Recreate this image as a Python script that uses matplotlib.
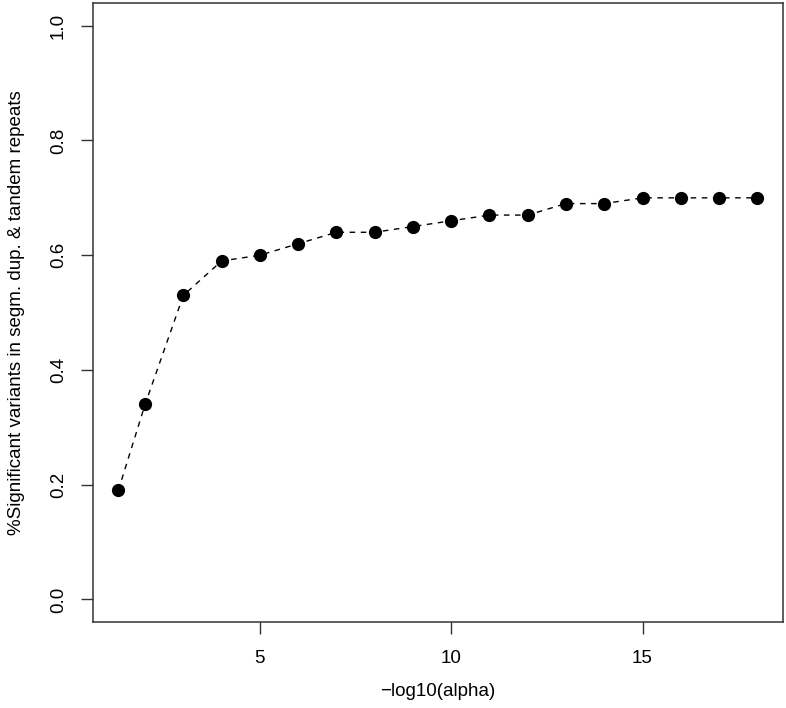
import numpy as np
import matplotlib
matplotlib.use("Agg")
import matplotlib.pyplot as plt

# data
neg_log_alpha = [1.3, 2, 3, 4, 5, 6, 7, 8, 9, 10, 11, 12, 13, 14, 15, 16, 17, 18]
pct_signif = [0.19, 0.34, 0.53, 0.59, 0.60, 0.62, 0.64, 0.64, 0.65, 0.66,
              0.67, 0.67, 0.69, 0.69, 0.70, 0.70, 0.70, 0.70]
x_ticks = [5, 10, 15]
y_ticks = [0.0, 0.2, 0.4, 0.6, 0.8, 1.0]

plt.rcParams['font.family'] = ['Liberation Sans', 'DejaVu Sans']

fig = plt.figure(figsize=(7.86, 7.08), dpi=100)
ax = fig.add_axes([0.118, 0.121, 0.878, 0.875])

ax.plot(neg_log_alpha, pct_signif, 'o--', color='black', linewidth=1,
        markersize=8.5, dashes=(4, 4))

# R style axes: 4% padding around the data range
xmin, xmax = min(neg_log_alpha), max(neg_log_alpha)
pad = 0.04 * (xmax - xmin)
ax.set_xlim(xmin - pad, xmax + pad)
ax.set_ylim(-0.04, 1.04)
ax.set_xticks(x_ticks)
ax.set_yticks(y_ticks)
ax.set_yticklabels(['%.1f' % v for v in y_ticks], rotation=90, va='center')
ax.tick_params(length=8.6, width=1, labelsize=13.5, color='#333333')
ax.tick_params(axis='x', pad=11)
ax.tick_params(axis='y', pad=10)
for s in ax.spines.values():
    s.set_linewidth(1.1)
    s.set_color('#333333')

ax.set_xlabel('\u2212log10(alpha)', fontsize=13.5, labelpad=12)
ax.set_ylabel('%Significant variants in segm. dup. & tandem repeats',
              fontsize=13.5, labelpad=18)

fig.savefig('out.png', dpi=100)
